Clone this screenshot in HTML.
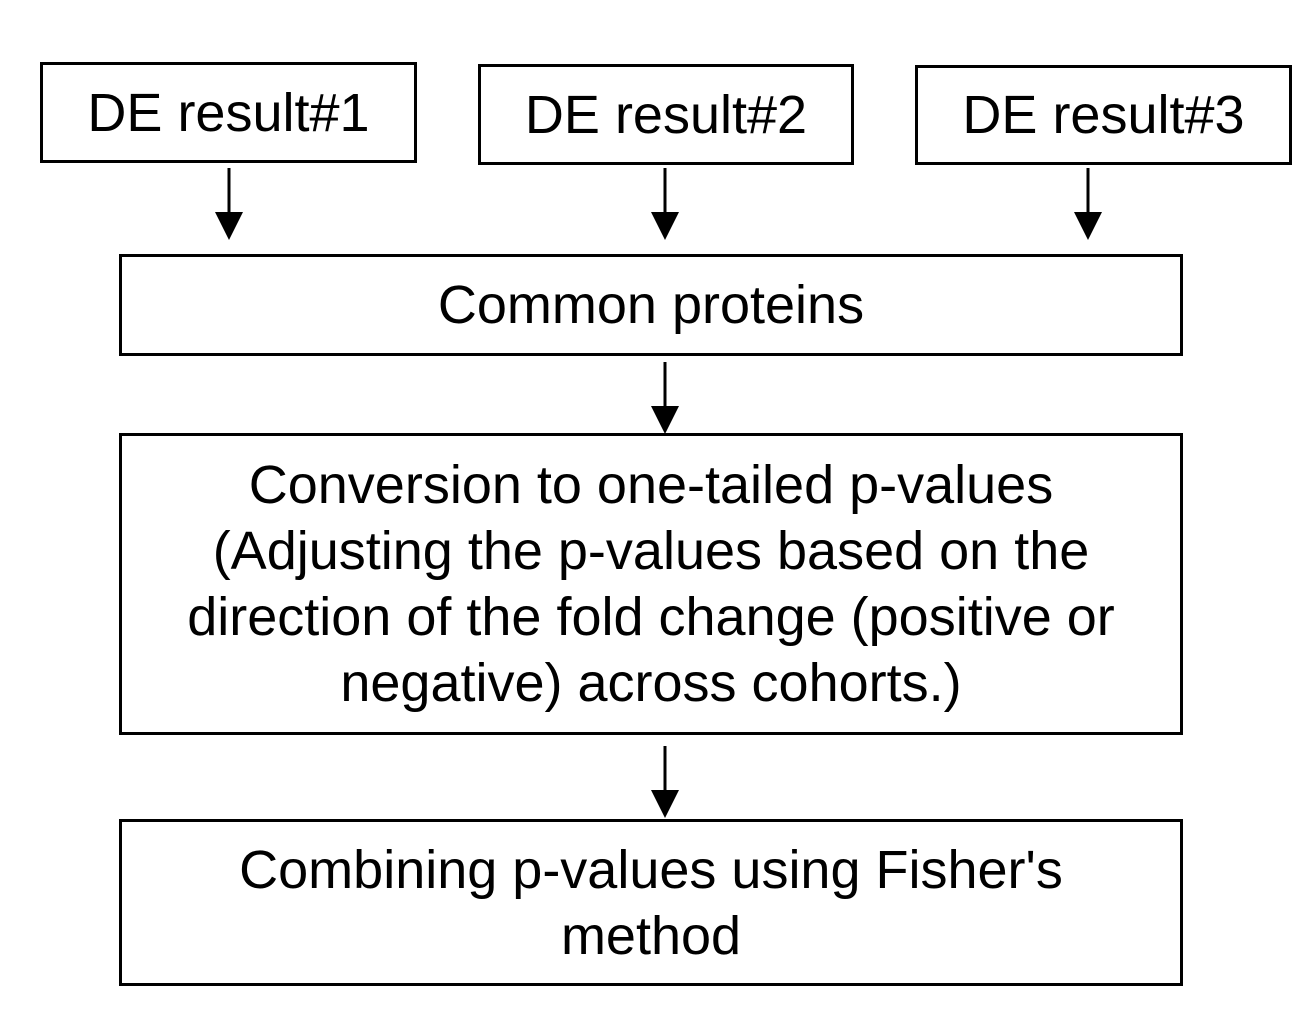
<!DOCTYPE html>
<html><head><style>
body{margin:0;background:#fff;}
.c{position:relative;width:1315px;height:1026px;background:#fff;overflow:hidden;font-family:"Liberation Sans",Arial,sans-serif;color:#000;}
.b{position:absolute;box-sizing:border-box;border:3px solid #000;display:flex;align-items:center;justify-content:center;text-align:center;font-size:54px;line-height:66px;}
</style></head><body><div class="c">
<div class="b" style="left:40px;top:62px;width:377px;height:101px;">DE result#1</div>
<div class="b" style="left:478px;top:64px;width:376px;height:101px;">DE result#2</div>
<div class="b" style="left:915px;top:65px;width:377px;height:100px;">DE result#3</div>
<div class="b" style="left:119px;top:254px;width:1064px;height:102px;">Common proteins</div>
<div class="b" style="left:119px;top:433px;width:1064px;height:302px;">Conversion to one-tailed p-values<br>(Adjusting the p-values based on the<br>direction of the fold change (positive or<br>negative) across cohorts.)</div>
<div class="b" style="left:119px;top:819px;width:1064px;height:167px;">Combining p-values using Fisher's<br>method</div>
<svg width="1315" height="1026" style="position:absolute;left:0;top:0">
<g stroke="#000" stroke-width="3">
<line x1="229" y1="168" x2="229" y2="214"/>
<line x1="665" y1="168" x2="665" y2="214"/>
<line x1="1088" y1="168" x2="1088" y2="214"/>
<line x1="665" y1="362" x2="665" y2="408"/>
<line x1="665" y1="746" x2="665" y2="792"/>
</g>
<g fill="#000">
<polygon points="215,212 243,212 229,240"/>
<polygon points="651,212 679,212 665,240"/>
<polygon points="1074,212 1102,212 1088,240"/>
<polygon points="651,406 679,406 665,434"/>
<polygon points="651,790 679,790 665,818"/>
</g>
</svg>
</div></body></html>
